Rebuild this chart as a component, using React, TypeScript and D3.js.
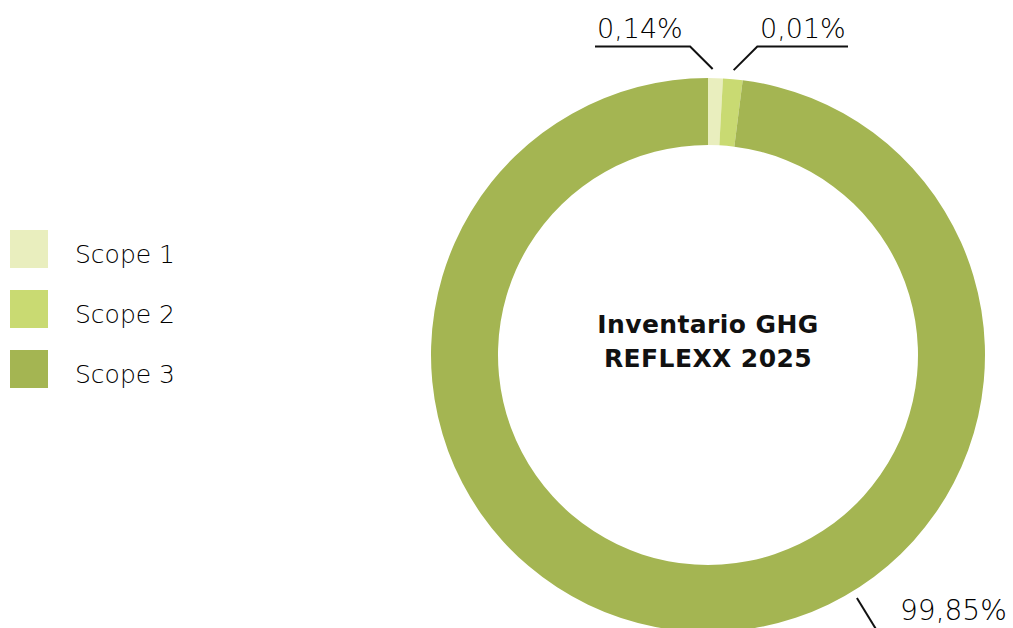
import React from "react";
import * as d3 from "d3";

const categories = ["Scope 1", "Scope 2", "Scope 3"];
// slice sizes as drawn in the reference (percent of the ring)
const sliceShares = [0.86, 1.14, 98.0];
// printed data labels
const valueLabels = ["0,14%", "0,01%", "99,85%"];
const colors = ["#E9EEBE", "#C9DA72", "#A4B552"];
const titleLines = ["Inventario GHG", "REFLEXX 2025"];

const W = 1013;
const H = 628;
const cx = 708;
const cy = 355;
const R = 277;
const r0 = 210;
const FONT = "'DejaVu Sans', sans-serif";

function polar(angle: number, rad: number): [number, number] {
  return [cx + rad * Math.sin(angle), cy - rad * Math.cos(angle)];
}

export default function App() {
  const pie = d3
    .pie<number>()
    .sort(null)
    .value((d) => d);
  const arcs = pie(sliceShares);
  const arcGen = d3.arc<d3.PieArcDatum<number>>().innerRadius(r0).outerRadius(R);

  const a0 = arcs[0].startAngle + (arcs[0].endAngle - arcs[0].startAngle) * 0.3;
  const mid1 = (arcs[1].startAngle + arcs[1].endAngle) / 2;
  const p0 = polar(a0, R + 9);
  const p1 = polar(mid1, R + 9);
  const bendY = 46.5;
  const label3Angle = (148.5 * Math.PI) / 180;
  const q0 = polar(label3Angle, R + 8);
  const q1 = polar(label3Angle, R + 60);

  return (
    <svg width={W} height={H} style={{ display: "block", position: "absolute", left: 0, top: 0 }}>
      <rect width={W} height={H} fill="#fff" />
      <g transform={`translate(${cx},${cy})`}>
        {arcs.map((a, i) => (
          <path key={i} d={arcGen(a) || ""} fill={colors[i]} />
        ))}
      </g>

      {/* leader lines */}
      <polyline
        points={`${p0[0]},${p0[1]} ${p0[0] - (p0[1] - bendY)},${bendY} 595,${bendY}`}
        fill="none"
        stroke="#111"
        strokeWidth={2}
      />
      <polyline
        points={`${p1[0]},${p1[1]} ${p1[0] + (p1[1] - bendY)},${bendY} 848,${bendY}`}
        fill="none"
        stroke="#111"
        strokeWidth={2}
      />
      <line x1={q0[0]} y1={q0[1]} x2={q1[0]} y2={q1[1]} stroke="#111" strokeWidth={2} />

      <g fontFamily={FONT} fill="#000" fontWeight={300}>
        <text x={597} y={38} fontSize={27}>
          {valueLabels[0]}
        </text>
        <text x={760} y={38} fontSize={27}>
          {valueLabels[1]}
        </text>
        <text x={900} y={620} fontSize={28}>
          {valueLabels[2]}
        </text>
      </g>

      <g fontFamily={FONT} fontWeight="bold" fill="#111" textAnchor="middle" fontSize={25}>
        {titleLines.map((t, i) => (
          <text key={i} x={cx} y={333 + i * 34} letterSpacing={0.4}>
            {t}
          </text>
        ))}
      </g>

      <g fontFamily={FONT} fill="#000" fontWeight={300}>
        {categories.map((c, i) => (
          <g key={c} transform={`translate(10,${230 + i * 60})`}>
            <rect width={38} height={38} fill={colors[i]} />
            <text x={65} y={33} fontSize={25}>
              {c}
            </text>
          </g>
        ))}
      </g>
    </svg>
  );
}
